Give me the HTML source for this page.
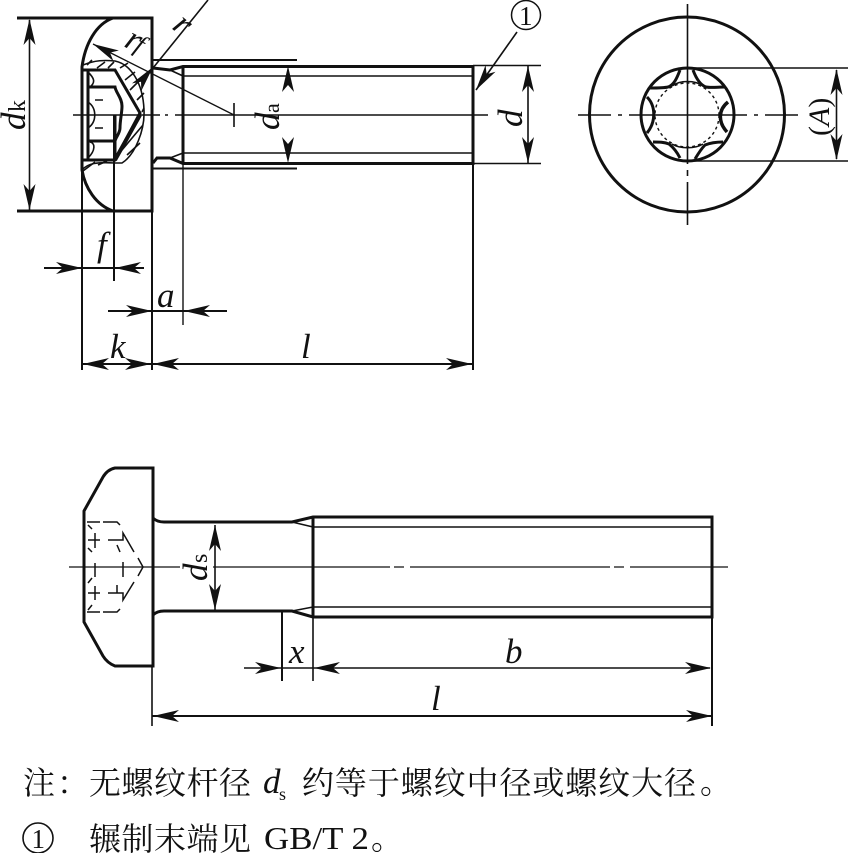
<!DOCTYPE html>
<html><head><meta charset="utf-8"><style>html,body{margin:0;padding:0;background:#fff}svg{display:block}
text{font-family:"Liberation Serif","Noto Serif CJK SC",serif;fill:#111}
.i{font-style:italic;font-size:35px}
.c{font-size:32px}
</style></head><body>
<svg width="848" height="853" viewBox="0 0 848 853" xmlns="http://www.w3.org/2000/svg">
<defs>
<path id="ar" d="M0 0L-26 -6L-19 0L-26 6Z" fill="#111"/>
</defs>
<g fill="none" stroke="#111" stroke-linecap="butt">
<!-- top view head -->
<g stroke-width="3">
<path d="M17 18H152V211H17"/>
<path d="M113 18C96 24 85 44 82 67V170C85 188 96 205 113 211"/>
<path d="M82 70H115L140 113L115 160H82"/>
<path d="M88 70V160M88 87H115C116 93 122 98 122 106C122 113 120 120 120 128C120 133 116 137 115 141H88M115 115V160"/>
</g>
<path d="M115 160L140 115" stroke-width="4"/>
<g stroke-width="1.6">
<path d="M83 65C95 60 105 60 115 61C130 64 143 82 144 110C145 130 135 155 122 163H115"/>
<path d="M82 170C88 163 97 162 115 163"/>
<path d="M87 65L92 60M97 68L105 62M108 68L114 62M120 68L128 63M125 80L135 72M130 90L140 80M137 100L144 93M142 112L144 108M122 150L143 125M127 155L140 143M83 171L95 162M98 165L107 161"/>
<path d="M88 72C94 78 96 82 90 87M88 102C97 108 97 122 88 128M90 142C95 143 96 150 88 158M95 100H103M95 128H103"/>
</g>
<!-- top shank -->
<g stroke-width="3">
<path d="M153 68L170 70L183 66.500H473V163.500H183L170 158H157L153 163"/>
<path d="M183 66V164M473 66V164"/>
</g>
<g stroke-width="1.6">
<path d="M152 60H297M152 168.500H297" stroke-width="2"/>
<path d="M183 76H473M183 153H473M170 70L183 76M170 158L183 153"/>
<path d="M473 65.500H541M473 163.500H541"/>
<path d="M73 115H160M165 115H168M175 115H488"/>
<path d="M234 103V127"/>
<path d="M93 44L234 115" stroke-width="1.3"/>
<path d="M153 68L208 0"/>
<path d="M29.500 20V210M528 65V163M476 90L517 32"/>
</g>
<g stroke-width="2">
<path d="M82 160V370M114 115V281M152 211V370M473 163V370"/>
<path d="M183 163V325" stroke-width="1.4"/>
<path d="M44 268H144M108 311H227M82 364H473"/>
</g>
<!-- right view -->
<g stroke-width="3">
<circle cx="687" cy="114.500" r="97.500"/>
<circle cx="687.500" cy="114.500" r="46.500"/>
<path d="M680 70C677 78 674 85 668 87C664 88 658 88 650 88M693 70C696 78 700 85 706 87C711 88 718 87 725 87M647 97C656 106 656 122 647 133M653 142C659 142 664 142 669 144C674 148 677 152 680 158M723 142C716 142 710 143 705 145C701 149 698 154 695 159"/>
<path d="M728 102C718 110 718 122 727 132" stroke-width="3.500"/>
</g>
<circle cx="687" cy="115" r="32" stroke-width="1.400" stroke-dasharray="3 3"/>
<path d="M672 86C680 80 695 80 703 86M672 144C680 149 695 149 703 144" stroke-width="1.500"/>
<g stroke-width="1.6">
<path d="M578 115H611M618 115H622M629 115H747M754 115H758M765 115H798"/>
<path d="M687.500 4V164M687.500 170V176M687.500 182V225"/>
<path d="M687 68H848M687 161H848M836.500 70V159"/>
</g>
<!-- bottom view -->
<g stroke-width="3">
<path d="M153 468H115C110 469 106 472 103 477L84 511V622L103 656C106 661 110 664 115 666H153Z"/>
<path d="M153 518C156 521 159 522 164 522H292L313 517H712V617H313L292 611H164C159 611 156 612 153 615"/>
<path d="M313 517V617"/>
</g>
<g stroke-width="1.600">
<path d="M313 527H712M313 607H712M292 522L313 527M292 611L313 607"/>
<path d="M69 567H180M213 567H390M394 567H404M410 567H610M614 567H624M630 567H728" stroke-width="1.300"/>
<path d="M215 525V610"/>
<path d="M152 666V726M313 617V681M244 668H710"/>
<path d="M152 716H712" stroke-width="2"/>
<path d="M282 611V681" stroke-width="2"/>
<path d="M712 617V726" stroke-width="2"/>
<g stroke-width="1.500">
<path d="M87 522H100M103 522H117L120 525M87 612H100M103 612H117L120 609"/>
<path d="M88 540H100M108 540H123V533L134 552M88 593H100M108 593H123V600L134 582"/>
<path d="M95 533V548M95 586V600M117 545L120 552M117 585V593"/>
<path d="M88 525L92 529M88 548L92 552M88 583L92 578M88 610L92 605"/>
<path d="M138 558L143 567L138 576M95 563V577M123 562V577"/>
</g>
</g>
<circle cx="526" cy="15" r="14.500" stroke-width="1.500"/>
<circle cx="38" cy="838" r="15" stroke-width="1.600"/>
</g>
<!-- arrowheads -->
<use href="#ar" transform="translate(29.500 19) rotate(-90)"/>
<use href="#ar" transform="translate(29.500 210) rotate(90)"/>
<use href="#ar" transform="translate(528 66) rotate(-90)"/>
<use href="#ar" transform="translate(528 163) rotate(90)"/>
<use href="#ar" transform="translate(288 66) rotate(-90)"/>
<use href="#ar" transform="translate(288 163) rotate(90)"/>
<use href="#ar" transform="translate(836.500 69) rotate(-90)"/>
<use href="#ar" transform="translate(836.500 160) rotate(90)"/>
<use href="#ar" transform="translate(215 525) rotate(-90)"/>
<use href="#ar" transform="translate(215 610) rotate(90)"/>
<use href="#ar" transform="translate(82 268)"/>
<use href="#ar" transform="translate(115 268) rotate(180)"/>
<use href="#ar" transform="translate(152 311)"/>
<use href="#ar" transform="translate(184 311) rotate(180)"/>
<use href="#ar" transform="translate(83 364) rotate(180)"/>
<use href="#ar" transform="translate(151 364)"/>
<use href="#ar" transform="translate(153 364) rotate(180)"/>
<use href="#ar" transform="translate(472 364)"/>
<use href="#ar" transform="translate(281 668)"/>
<use href="#ar" transform="translate(314 668) rotate(180)"/>
<use href="#ar" transform="translate(711 668)"/>
<use href="#ar" transform="translate(153 716) rotate(180)"/>
<use href="#ar" transform="translate(712 716)"/>
<use href="#ar" transform="translate(153 67) rotate(-51)"/>
<use href="#ar" transform="translate(93 44) rotate(207)"/>
<use href="#ar" transform="translate(476 90) rotate(124)"/>
<!-- labels -->
<text class="i" transform="translate(25 130) rotate(-90)">d</text>
<text font-size="24" transform="translate(25 112) rotate(-90)">k</text>
<text class="i" transform="translate(279 130) rotate(-90)">d</text>
<text font-size="22" transform="translate(279 113) rotate(-90)">a</text>
<text class="i" transform="translate(522 127) rotate(-90)">d</text>
<text class="i" transform="translate(207 581) rotate(-90)">d</text>
<text font-size="24" transform="translate(207 563) rotate(-90)">s</text>
<text font-size="30" transform="translate(829 136) rotate(-90)">(<tspan font-style="italic">A</tspan>)</text>
<text class="i" x="97" y="256">f</text>
<text class="i" x="157" y="307">a</text>
<text class="i" x="110" y="358">k</text>
<text class="i" x="301" y="358">l</text>
<text class="i" x="289" y="663">x</text>
<text class="i" x="505" y="663">b</text>
<text class="i" x="431" y="710">l</text>
<text class="i" transform="translate(171 28) rotate(40)" font-size="30">r</text>
<text class="i" transform="translate(123 46) rotate(28)" font-size="30">r</text>
<text font-style="italic" font-size="26" transform="translate(133 50) rotate(28)">f</text>
<text font-size="27" x="519" y="25">1</text>
<text font-size="27" x="31.500" y="848">1</text>
<text class="c" x="23" y="794">注</text>
<text class="c" x="57" y="794">：</text>
<text class="c" x="89" y="794" textLength="162">无螺纹杆径</text>
<text class="i" x="263" y="793" font-size="30">d</text>
<text font-size="18" x="279" y="800">s</text>
<text class="c" x="302" y="794" textLength="394">约等于螺纹中径或螺纹大径</text>
<text class="c" x="700" y="793">。</text>
<text class="c" x="89" y="850" textLength="162">辗制末端见</text>
<text font-size="32" x="264" y="849" textLength="105" lengthAdjust="spacingAndGlyphs">GB/T 2</text>
<text class="c" x="371" y="849">。</text>
</svg>
</body></html>
